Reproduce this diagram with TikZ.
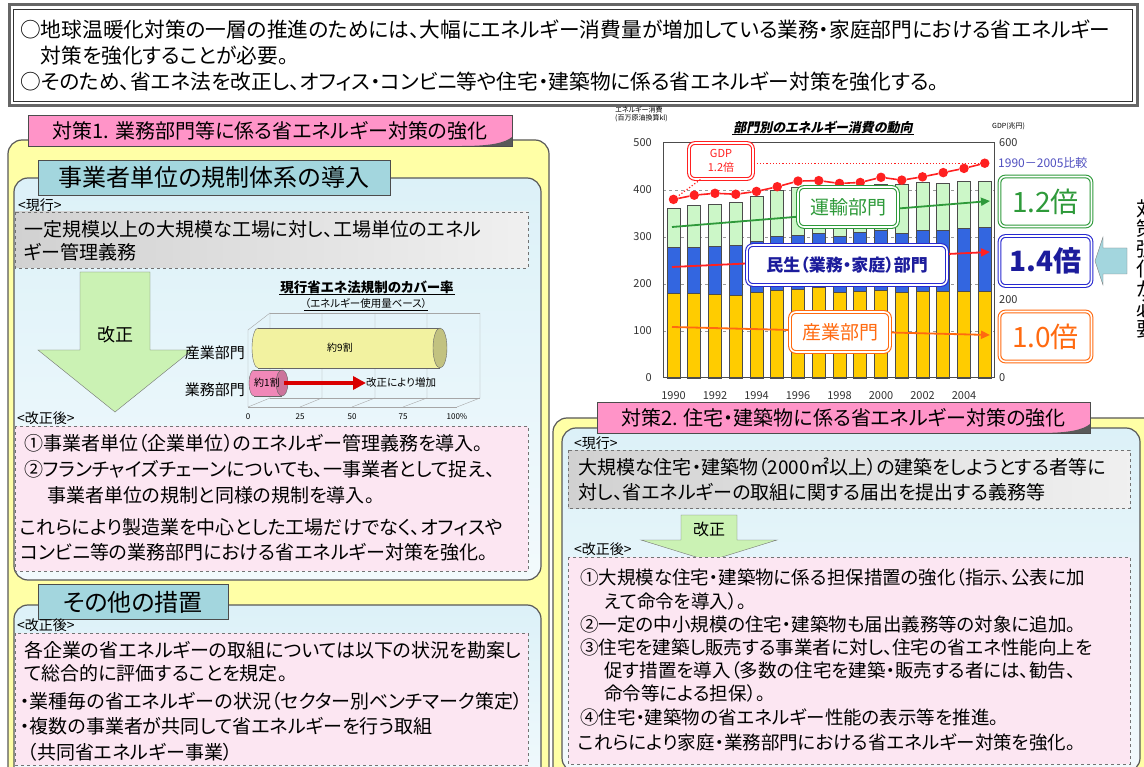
\documentclass[tikz,border=0pt]{standalone}
\usepackage{fontspec}
\setmainfont{Noto Sans CJK JP}[RawFeature=+palt]
\newfontfamily\slantjp{Noto Sans CJK JP}[RawFeature=+palt, FakeSlant=0.2]
\usetikzlibrary{arrows.meta}

\definecolor{panelyellow}{HTML}{FFFFA6}
\definecolor{tabpink}{HTML}{FF94C8}
\definecolor{tabteal}{HTML}{A3D6DE}
\definecolor{panelblue}{HTML}{DCF1F8}
\definecolor{notepink}{HTML}{FCE6F2}
\definecolor{arrowgreen}{HTML}{CBF2B4}
\definecolor{barorange}{HTML}{FFCC00}
\definecolor{barblue}{HTML}{3366E0}
\definecolor{barmint}{HTML}{CCF7C8}
\definecolor{gdpred}{HTML}{FF2020}
\definecolor{transgreen}{HTML}{2E9A3A}
\definecolor{homeblue}{HTML}{2828D0}
\definecolor{homenavy}{HTML}{1C1C9C}
\definecolor{indorange}{HTML}{FF6A10}
\definecolor{compblue}{HTML}{5050C0}
\definecolor{cylyellow}{HTML}{F2F2A0}
\definecolor{cylpink}{HTML}{F088B8}

\tikzset{
  panel/.style={draw=black!65, line width=1.2pt, rounded corners=14pt},
  pinktab/.style={draw=black!70, fill=tabpink, line width=0.8pt, minimum height=31pt,
    inner sep=0pt, font=\fontsize{20}{20}\selectfont},
  tealtab/.style={draw=black!70, fill=tabteal, line width=0.8pt, minimum height=35pt,
    inner sep=0pt, font=\fontsize{24}{24}\selectfont},
  notebox/.style={draw=black!55, dashed, line width=0.7pt},
  tag/.style={anchor=west, inner sep=0pt, font=\fontsize{14}{14}\selectfont},
  % multi-line nodes: base = baseline of the last line
  bodytext/.style={anchor=base west, align=left, inner sep=0pt, font=\fontsize{19}{25}\selectfont},
  seclabel/.style={draw=#1, text=#1, double=white, double distance=1.6pt, line width=1.1pt,
    fill=white, rounded corners=6pt, inner sep=0pt},
  ratio/.style={seclabel=#1, minimum width=92pt, minimum height=50pt, font=\fontsize{28}{28}\selectfont},
  gdpdot/.style={circle, fill=gdpred, inner sep=0pt, minimum size=9.5pt},
  barline/.style={draw=black!70, line width=0.6pt},
  axisnum/.style={inner sep=0pt, text=black!80, font=\fontsize{11}{11}\selectfont},
  sectorarrow/.style={line width=1.8pt, -{Triangle[length=9pt,width=8pt]}},
}

\begin{document}
\begin{tikzpicture}[x=1pt, y=-1pt]
\useasboundingbox[fill=white] (0,0) rectangle (1144,767);

% overview box
\draw[black!60, line width=3pt] (9,5) rectangle (1137,106);
\draw[black!80, line width=0.7pt] (13.5,9.5) rectangle (1132.5,101.5);
\node[bodytext, font=\fontsize{20.7}{26}\selectfont] (intro) at (20,90)
  {○地球温暖化対策の一層の推進のためには、大幅にエネルギー消費量が増加している業務・家庭部門における省エネルギー\\
   \hspace*{1em}対策を強化することが必要。\\
   ○そのため、省エネ法を改正し、オフィス・コンビニ等や住宅・建築物に係る省エネルギー対策を強化する。};

% energy chart
\node[inner sep=0pt, font=\fontsize{7}{8.5}\selectfont, align=left, anchor=north west] (unitleft) at (615,106)
  {エネルギー消費\\(百万原油換算kl)};
\node[inner sep=0pt, font=\fontsize{7}{7}\selectfont, anchor=west] (unitright) at (992,126) {GDP(兆円)};
\node[inner sep=1pt, font=\slantjp\bfseries\fontsize{13}{13}\selectfont] (charttitle) at (823,127)
  {部門別のエネルギー消費の動向};
\draw[line width=0.8pt] (charttitle.south west) -- (charttitle.south east);

\begin{scope}[shift={(663,378)}, yscale=-0.47]
  \foreach \v in {100,200,300,400}
    \draw[black!40, dashed] (0,\v) -- (331,\v);
  \foreach \v in {0,100,...,500}
    \node[axisnum, anchor=east] (ax\v) at (-11,\v) {\v};
  \foreach \vtot/\vhome/\vind/\vgdp [count=\i from 0] in {361/279/180/380, 368/279/180/389,
      370/281/178/393, 373/283/177/391, 386/290/182/397, 400/301/186/407, 406/304/189/419,
      407/308/192/420, 407/301/182/414, 411/310/185/416, 413/315/187/427, 412/308/182/421,
      417/315/184/428, 414/314/185/437, 418/319/185/446, 418/321/184/457} {
    \pgfmathsetmacro\cx{10.5+20.75*\i}
    \draw[barline, fill=barorange] (\cx-6.5,0) rectangle (\cx+6.5,\vind);
    \draw[barline, fill=barblue] (\cx-6.5,\vind) rectangle (\cx+6.5,\vhome);
    \draw[barline, fill=barmint] (\cx-6.5,\vhome) rectangle (\cx+6.5,\vtot);
    \node[gdpdot] (g\i) at (\cx,\vgdp) {};
  }
  \foreach \i [remember=\i as \last (initially 0)] in {1,...,15}
    \draw[gdpred, line width=1.6pt] (g\last) -- (g\i);
  \draw[black!70, line width=1pt] (0,0) rectangle (331,500);
  \foreach \yr [count=\k from 0] in {1990,1992,...,2004}
    \node[axisnum] (yr\yr) at (10.5+41.5*\k,-38) {\yr};
  \node[axisnum, anchor=west] (gdpsix) at (336,500) {600};
  \node[axisnum, anchor=west] (gdptwo) at (336,166.7) {200};
  \node[axisnum, anchor=west] (gdpzero) at (336,0) {0};
\end{scope}

\node[seclabel=gdpred, minimum width=64pt, minimum height=36pt, align=center,
  font=\fontsize{11}{14}\selectfont] (gdpbox) at (721,161) {GDP\\1.2倍};
\draw[gdpred, dotted, line width=1.2pt] (g15 -| gdpbox.east) -- (g15);
\draw[gdpred, dotted, line width=1.2pt] ([xshift=12pt]gdpbox.south west) -- (g0);

\coordinate (transfrom) at (672,227); \coordinate (transto) at (990,201);
\coordinate (homefrom) at (672,267);  \coordinate (hometo) at (990,252);
\coordinate (indfrom) at (672,327);   \coordinate (indto) at (990,335);
\draw[sectorarrow, transgreen] (transfrom) -- (transto);
\draw[sectorarrow, gdpred] (homefrom) -- (hometo);
\draw[sectorarrow, indorange] (indfrom) -- (indto);

\node[seclabel=transgreen, minimum width=100pt, minimum height=40pt,
  font=\fontsize{19}{19}\selectfont] (trans) at (848,207) {運輸部門};
\node[seclabel=homeblue, text=homenavy, minimum width=200pt, minimum height=40pt,
  font=\bfseries\fontsize{17}{17}\selectfont] (home) at (847,265) {民生（業務・家庭）部門};
\node[seclabel=indorange, minimum width=100pt, minimum height=40pt,
  font=\fontsize{19}{19}\selectfont] (ind) at (840,332) {産業部門};

\node[anchor=west, inner sep=0pt, text=compblue, font=\fontsize{12}{12}\selectfont] (compare) at (998,163)
  {1990－2005比較};
\node[ratio=transgreen] (rtrans) at (1045.5,201.5) {1.2倍};
\node[ratio=homeblue, text=homenavy, font=\bfseries\fontsize{28}{28}\selectfont] (rhome) at (1045.5,261) {1.4倍};
\node[ratio=indorange] (rind) at (1045.5,336.5) {1.0倍};

\draw[black!50, fill=tabteal] (1095,261) -- (1103,237) -- (1103,248) -- (1127,248)
  -- (1127,274) -- (1103,274) -- (1103,285) -- cycle;
\node[anchor=north west, align=center, inner sep=0pt, font=\fontsize{20}{20}\selectfont] (needed) at (1136,200)
  {対\\策\\強\\化\\が\\必\\要};

% measure 1
\draw[panel, fill=panelyellow] (8,140) rectangle (549,800);
\node[pinktab, minimum width=484pt] (tabone) at (270,130.5) {対策1. 業務部門等に係る省エネルギー対策の強化};
\fill[black!65] (462,146) .. controls (490,146) and (505,143) .. (512,137) -- (512,146) -- cycle;

\draw[panel, top color=panelblue, bottom color=panelblue!35] (14,178) rectangle (541,580);
\node[tealtab, minimum width=352pt] (tabunit) at (214,177.5) {事業者単位の規制体系の導入};
\node[tag] (curone) at (18,205) {<現行>};
\draw[notebox, left color=black!18, right color=black!6] (15,212) rectangle (528,268);
\node[bodytext, font=\fontsize{19}{23}\selectfont] (curonetext) at (24,260)
  {一定規模以上の大規模な工場に対し、工場単位のエネル\\ギー管理義務};

\draw[black!55, fill=arrowgreen] (80,272) -- (150,272) -- (150,350) -- (192,350)
  -- (115,412) -- (38,350) -- (80,350) -- cycle;
\node[inner sep=0pt, font=\fontsize{18}{18}\selectfont] (revone) at (115,335) {改正};

% cover-rate chart
\node[inner sep=1pt, font=\bfseries\fontsize{13.5}{13.5}\selectfont] (covertitle) at (367,287)
  {現行省エネ法規制のカバー率};
\draw[line width=0.7pt] (covertitle.south west) -- (covertitle.south east);
\node[inner sep=1pt, font=\fontsize{10.5}{10.5}\selectfont] (coverbase) at (366,304)
  {（エネルギー使用量ベース）};
\draw[line width=0.6pt] (coverbase.south west) -- (coverbase.south east);
\draw[black!35] (270,313) -- (480,313);
\draw[black!35] (270,398) -- (480,398);
\draw[black!35] (248,407) -- (457,407);
\draw[black!35] (270,313) -- (248,330) -- (248,407);
\foreach \bx/\fx/\pc in {270/248/0, 322/300/25, 375/352/50, 427/403/75, 480/457/100\%} {
  \draw[black!35] (\bx,313) -- (\bx,398) -- (\fx,407);
  \node[inner sep=0pt, font=\fontsize{8}{8}\selectfont] at (\fx,417) {\pc};
}
\draw[black!60, fill=cylyellow] (258,348) ellipse (6 and 20);
\fill[cylyellow] (258,328) rectangle (440,368);
\draw[black!60] (258,328) -- (440,328) (258,368) -- (440,368);
\draw[black!60, fill=cylyellow!80!black] (440,348) ellipse (7 and 20);
\node[inner sep=0pt, font=\fontsize{10}{10}\selectfont] (ninetenth) at (340,348) {約9割};
\draw[black!60, fill=cylpink] (254,383) ellipse (5 and 13);
\fill[cylpink] (254,370) rectangle (282,396);
\draw[black!60] (254,370) -- (282,370) (254,396) -- (282,396);
\draw[black!60, fill=cylpink!85!black] (282,383) ellipse (6 and 13);
\node[inner sep=0pt, font=\fontsize{10}{10}\selectfont] (onetenth) at (267,383) {約1割};
\coordinate (risefrom) at (284,383);
\node[anchor=west, inner sep=0pt, font=\fontsize{10.5}{10.5}\selectfont] (rise) at (366,383) {改正により増加};
\draw[red!85!black, line width=4.5pt, -{Triangle[length=13pt,width=13pt]}] (risefrom) -- (rise.west);
\node[anchor=east, inner sep=0pt, font=\fontsize{15}{15}\selectfont] (indrow) at (245,353) {産業部門};
\node[anchor=east, inner sep=0pt, font=\fontsize{15}{15}\selectfont] (busrow) at (245,390) {業務部門};

\node[tag] (newone) at (17,418) {<改正後>};
\draw[notebox, fill=notepink] (15,426) rectangle (528,571);
\node[bodytext, font=\fontsize{19}{26}\selectfont] (newonea) at (24,502)
  {①事業者単位（企業単位）のエネルギー管理義務を導入。\\
   ②フランチャイズチェーンについても、一事業者として捉え、\\
   \hspace*{1.2em}事業者単位の規制と同様の規制を導入。};
\node[bodytext] (newoneb) at (20,559)
  {これらにより製造業を中心とした工場だけでなく、オフィスや\\
   コンビニ等の業務部門における省エネルギー対策を強化。};

% other measures
\draw[panel, top color=panelblue, bottom color=panelblue!35] (14,605) rectangle (541,800);
\node[tealtab, minimum width=190pt] (tabother) at (133,602) {その他の措置};
\node[tag] (newtwo) at (17,625) {<改正後>};
\draw[notebox, fill=notepink] (15,633) rectangle (528,765);
\node[bodytext, font=\fontsize{19}{23}\selectfont] (othertext) at (24,680)
  {各企業の省エネルギーの取組については以下の状況を勘案し\\て総合的に評価することを規定。};
\node[bodytext, font=\fontsize{19}{25.5}\selectfont] (otherlist) at (20,759)
  {・業種毎の省エネルギーの状況（セクター別ベンチマーク策定）\\
   ・複数の事業者が共同して省エネルギーを行う取組\\
   \hspace*{0.4em}（共同省エネルギー事業）};

% measure 2
\draw[panel, fill=panelyellow] (553,418) rectangle (1170,800);
\draw[panel, top color=panelblue, bottom color=panelblue!35] (562,428) rectangle (1140,772);
\node[pinktab, minimum width=493pt] (tabtwo) at (843.5,417.5) {対策2. 住宅・建築物に係る省エネルギー対策の強化};
\fill[black!65] (1040,433) .. controls (1068,433) and (1083,430) .. (1090,424) -- (1090,433) -- cycle;
\node[tag] (curtwo) at (574,443) {<現行>};
\draw[notebox, left color=black!18, right color=black!6] (568,450) rectangle (1130,508);
\node[bodytext, font=\fontsize{19}{25}\selectfont] (curtwotext) at (578,499)
  {大規模な住宅・建築物（2000㎡以上）の建築をしようとする者等に\\
   対し、省エネルギーの取組に関する届出を提出する義務等};
\draw[black!55, fill=arrowgreen] (681,515) -- (737,515) -- (737,540) -- (777,540)
  -- (709,561) -- (641,540) -- (681,540) -- cycle;
\node[inner sep=0pt, font=\fontsize{16}{16}\selectfont] (revtwo) at (709,529) {改正};
\node[tag] (newthree) at (574,549) {<改正後>};
\draw[notebox, fill=notepink] (568,557) rectangle (1130,764);
\node[bodytext, font=\fontsize{18.5}{23.2}\selectfont] (newtwotext) at (580,724)
  {①大規模な住宅・建築物に係る担保措置の強化（指示、公表に加\\
   \hspace*{1.3em}えて命令を導入）。\\
   ②一定の中小規模の住宅・建築物も届出義務等の対象に追加。\\
   ③住宅を建築し販売する事業者に対し、住宅の省エネ性能向上を\\
   \hspace*{1.3em}促す措置を導入（多数の住宅を建築・販売する者には、勧告、\\
   \hspace*{1.3em}命令等による担保）。\\
   ④住宅・建築物の省エネルギー性能の表示等を推進。};
\node[bodytext, font=\fontsize{18.5}{23}\selectfont] (newtwosum) at (578,749)
  {これらにより家庭・業務部門における省エネルギー対策を強化。};
\end{tikzpicture}
\end{document}
